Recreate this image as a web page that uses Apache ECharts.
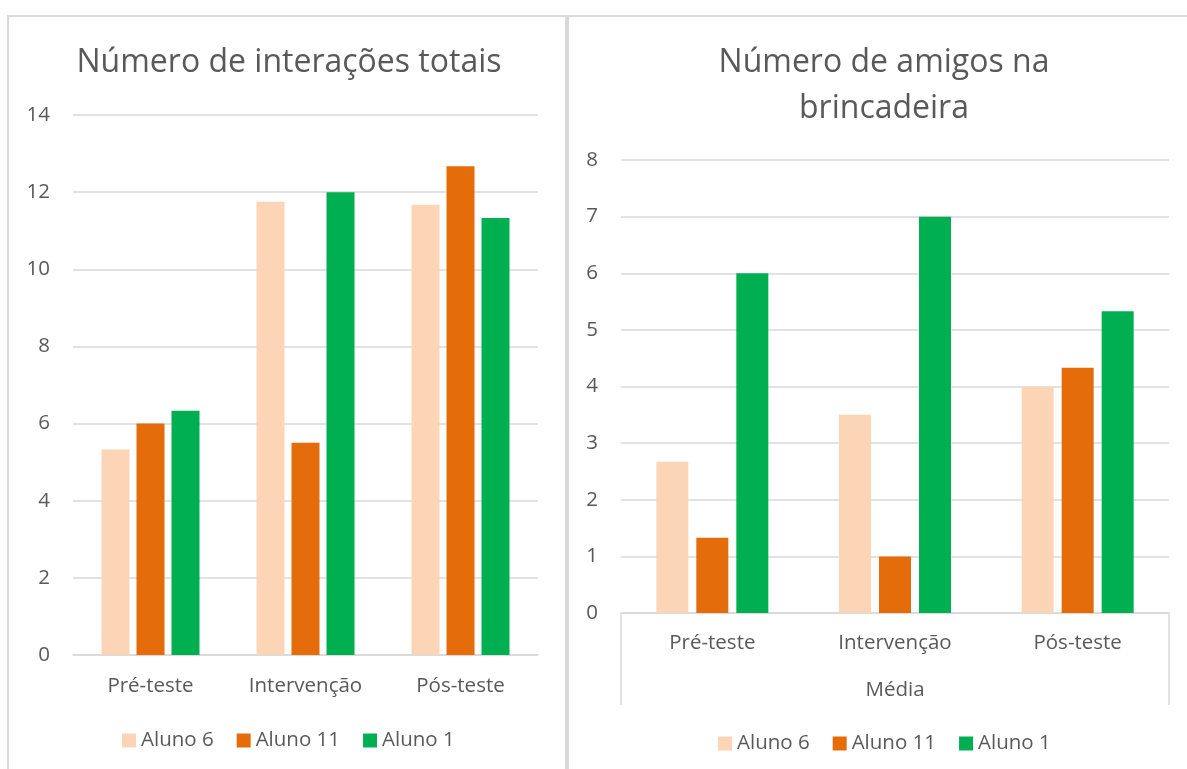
<!DOCTYPE html>
<html>
<head>
<meta charset="utf-8">
<script src="https://cdn.jsdelivr.net/npm/echarts@6/dist/echarts.min.js"></script>
<style>
html,body{margin:0;padding:0;background:#fff;}
#c{width:1187px;height:769px;}
</style>
</head>
<body>
<div id="c"></div>
<script>
const categories = ['Pré-teste', 'Intervenção', 'Pós-teste'];
const seriesNames = ['Aluno 6', 'Aluno 11', 'Aluno 1'];
const colors = ['#FBD5B5', '#E46C0A', '#00B050'];
// Número de interações totais
const interacoesAluno6 = [5.33, 11.75, 11.67];
const interacoesAluno11 = [6.0, 5.5, 12.67];
const interacoesAluno1 = [6.33, 12.0, 11.33];
// Número de amigos na brincadeira (Média)
const amigosAluno6 = [2.67, 3.5, 4.0];
const amigosAluno11 = [1.33, 1.0, 4.33];
const amigosAluno1 = [6.0, 7.0, 5.33];
const groupLabel = ['Média'];

const leftData = [interacoesAluno6, interacoesAluno11, interacoesAluno1];
const rightData = [amigosAluno6, amigosAluno11, amigosAluno1];

const FONT = 'Open Sans';
const TXT = '#595959';
const GRID = '#D9D9D9';

const chart = echarts.init(document.getElementById('c'));

const series = [];
seriesNames.forEach((n, i) => {
  series.push({
    name: n, type: 'bar', xAxisIndex: 0, yAxisIndex: 0,
    data: leftData[i], barWidth: 28, barGap: '25%',
    itemStyle: { color: colors[i] }, animation: false
  });
});
seriesNames.forEach((n, i) => {
  series.push({
    name: n, type: 'bar', xAxisIndex: 1, yAxisIndex: 1,
    data: rightData[i], barWidth: 32, barGap: '25%',
    itemStyle: { color: colors[i] }, animation: false
  });
});

const legendText = { fontFamily: FONT, fontSize: 20.5, color: TXT };
const catFont = 20.5;
const tickFont = 20.5;

chart.setOption({
  animation: false,
  textStyle: { fontFamily: FONT, color: TXT },
  title: [
    { text: 'Número de interações totais', left: 284, textAlign: 'center', top: 42,
      textStyle: { fontFamily: FONT, fontSize: 32, fontWeight: 'normal', color: TXT } },
    { text: 'Número de amigos na\nbrincadeira', left: 879, textAlign: 'center', top: 35,
      textStyle: { fontFamily: FONT, fontSize: 32, fontWeight: 'normal', color: TXT, lineHeight: 46 } }
  ],
  legend: [
    { data: seriesNames, left: 117, top: 725, itemWidth: 14, itemHeight: 14, itemGap: 23, icon: 'rect',
      textStyle: legendText },
    { data: seriesNames, left: 713, top: 728, itemWidth: 14, itemHeight: 14, itemGap: 23, icon: 'rect',
      textStyle: legendText }
  ],
  grid: [
    { left: 73, right: 649, top: 115, bottom: 114 },
    { left: 621, right: 18, top: 160, bottom: 156 }
  ],
  xAxis: [
    { type: 'category', gridIndex: 0, data: categories, position: 'bottom',
      axisLine: { lineStyle: { color: GRID, width: 1.5 } }, axisTick: { show: false },
      axisLabel: { margin: 21, fontSize: catFont, color: TXT, fontFamily: FONT } },
    { type: 'category', gridIndex: 1, data: categories, position: 'bottom',
      axisLine: { lineStyle: { color: GRID, width: 1.5 } }, axisTick: { show: false },
      axisLabel: { margin: 20, fontSize: catFont, color: TXT, fontFamily: FONT } },
    { type: 'category', gridIndex: 1, data: groupLabel, position: 'bottom',
      axisLine: { show: false },
      axisTick: { show: true, length: 92, lineStyle: { color: GRID, width: 1.5 } },
      axisLabel: { margin: 67, fontSize: catFont, color: TXT, fontFamily: FONT } }
  ],
  yAxis: [
    { type: 'value', gridIndex: 0, min: 0, max: 14, interval: 2,
      axisLine: { show: false }, axisTick: { show: false },
      splitLine: { lineStyle: { color: GRID, width: 1.5 } },
      axisLabel: { margin: 23, fontSize: tickFont, color: TXT, fontFamily: FONT } },
    { type: 'value', gridIndex: 1, min: 0, max: 8, interval: 1,
      axisLine: { show: false }, axisTick: { show: false },
      splitLine: { lineStyle: { color: GRID, width: 1.5 } },
      axisLabel: { margin: 23, fontSize: tickFont, color: TXT, fontFamily: FONT } }
  ],
  graphic: [
    { type: 'rect', shape: { x: 8, y: 16, width: 558, height: 770 }, silent: true,
      style: { fill: 'none', stroke: GRID, lineWidth: 2 } },
    { type: 'rect', shape: { x: 568, y: 16, width: 630, height: 770 }, silent: true,
      style: { fill: 'none', stroke: GRID, lineWidth: 2 } }
  ],
  series: series
});
</script>
</body>
</html>
